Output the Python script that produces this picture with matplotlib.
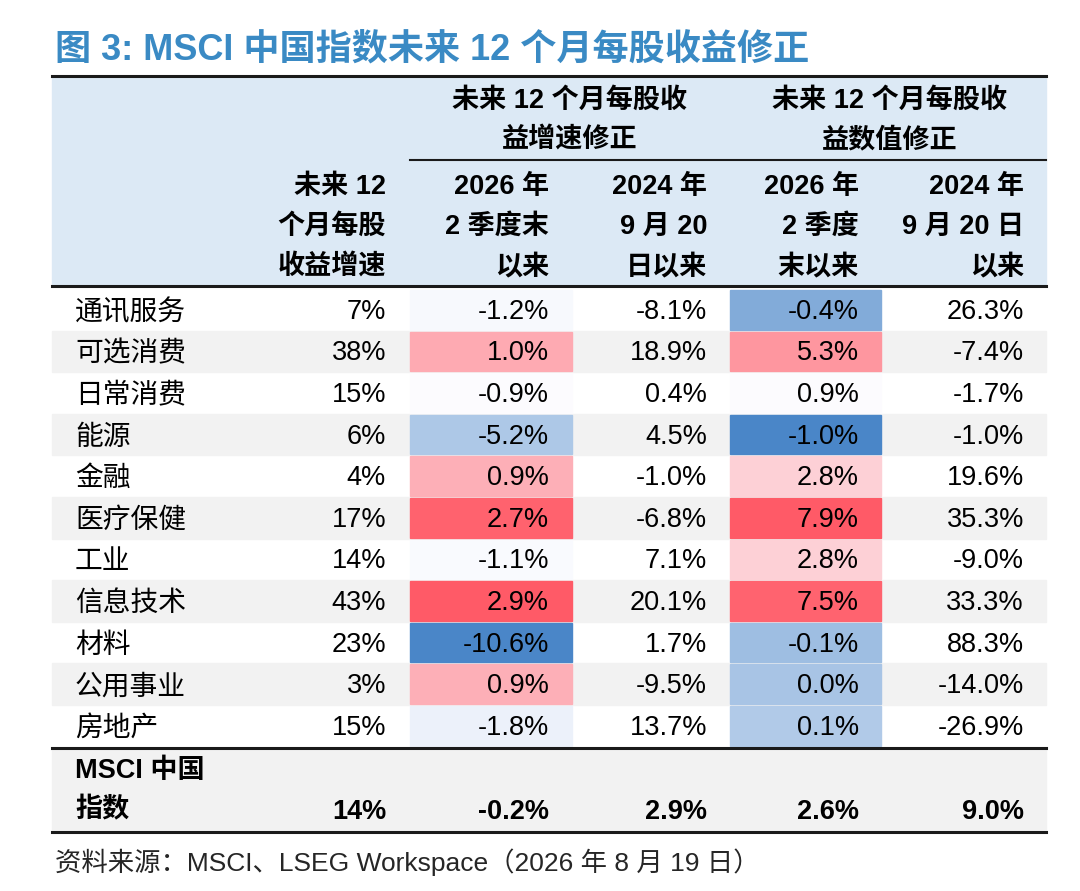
import numpy as np
import matplotlib
matplotlib.use("Agg")
import matplotlib.pyplot as plt
from matplotlib import font_manager
from matplotlib.colors import LinearSegmentedColormap, TwoSlopeNorm
from matplotlib.patches import Rectangle

# pick a narrow latin face if one exists, else Arial-like Liberation Sans
names = {f.name for f in font_manager.fontManager.ttflist}
latin = next((n for n in ["Liberation Sans Narrow", "Arial Narrow", "DejaVu Sans Condensed"]
              if n in names), "Liberation Sans")
plt.rcParams['font.family'] = [latin, 'Noto Sans CJK SC', 'DejaVu Sans']

title = "图 3: MSCI 中国指数未来 12 个月每股收益修正"
source = "资料来源：MSCI、LSEG Workspace（2026 年 8 月 19 日）"

sectors = ["通讯服务", "可选消费", "日常消费", "能源", "金融", "医疗保健",
           "工业", "信息技术", "材料", "公用事业", "房地产"]
eps_growth = [7, 38, 15, 6, 4, 17, 14, 43, 23, 3, 15]
growth_rev_q2 = [-1.2, 1.0, -0.9, -5.2, 0.9, 2.7, -1.1, 2.9, -10.6, 0.9, -1.8]
growth_rev_sep = [-8.1, 18.9, 0.4, 4.5, -1.0, -6.8, 7.1, 20.1, 1.7, -9.5, 13.7]
value_rev_q2 = [-0.4, 5.3, 0.9, -1.0, 2.8, 7.9, 2.8, 7.5, -0.1, 0.0, 0.1]
value_rev_sep = [26.3, -7.4, -1.7, -1.0, 19.6, 35.3, -9.0, 33.3, 88.3, -14.0, -26.9]

index_name = ["MSCI 中国", "指数"]
index_row = [14, -0.2, 2.9, 2.6, 9.0]

group_headers = [["未来 12 个月每股收", "益增速修正"], ["未来 12 个月每股收", "益数值修正"]]
col_headers = [["未来 12", "个月每股", "收益增速"],
               ["2026 年", "2 季度末", "以来"],
               ["2024 年", "9 月 20", "日以来"],
               ["2026 年", "2 季度", "末以来"],
               ["2024 年", "9 月 20 日", "以来"]]

# layout in pixel units of the 1080x891 canvas
W, H = 1080, 891
left, right = 52, 1046
col_right = [386, 549, 707, 859, 1024]
cell_spans = {1: (410, 572), 3: (730, 881)}
row_top, row_h = 289, 41.6
num_size = 21 if latin != "Liberation Sans" else 19.5

fig = plt.figure(figsize=(10.8, 8.91), dpi=100)
ax = fig.add_axes([0, 0, 1, 1])
ax.set_xlim(0, W)
ax.set_ylim(H, 0)
ax.axis("off")

ax.text(55, 50, title, fontsize=26, fontweight="bold", color="#3a8ac4",
        va="center", ha="left")

# header block
ax.add_patch(Rectangle((left, 77), right - left, 209, color="#dce9f5", zorder=0))
ax.plot([left, right], [76, 76], color="#1a1a1a", lw=2.2)
ax.plot([410, right], [160, 160], color="#1a1a1a", lw=1.5)
ax.plot([left, right], [286, 286], color="#1a1a1a", lw=2.2)

hfont = dict(fontsize=19.5, fontweight="bold", va="center")
for cx, lines in zip([570, 890], group_headers):
    for li, t in enumerate(lines):
        ax.text(cx, 101 + li * 39, t, ha="center", **hfont)
for ci, lines in enumerate(col_headers):
    for li, t in enumerate(lines):
        ax.text(col_right[ci], 187 + li * 40, t, ha="right", **hfont)

cmap = LinearSegmentedColormap.from_list("rwb", ["#4a86c8", "#fcfcff", "#ff5a67"])
cols = [eps_growth, growth_rev_q2, growth_rev_sep, value_rev_q2, value_rev_sep]

scales = {}
for ci, span in cell_spans.items():
    vals = np.array(cols[ci])
    norm = TwoSlopeNorm(vmin=vals.min(), vcenter=np.median(vals), vmax=vals.max())
    scales[ci] = (span, norm)

for ri, name in enumerate(sectors):
    y0 = row_top + ri * row_h
    yc = y0 + row_h / 2 + 2
    if ri % 2 == 1:
        ax.add_patch(Rectangle((left, y0), right - left, row_h, color="#f2f2f2", zorder=0))
    ax.text(75, yc, name, fontsize=20, va="center", ha="left", family="Noto Sans CJK SC")
    for ci, col in enumerate(cols):
        v = col[ri]
        if ci in scales:
            (x0, x1), norm = scales[ci]
            ax.add_patch(Rectangle((x0, y0 + 1), x1 - x0, row_h - 2,
                                   color=cmap(norm(v)), zorder=1))
        label = f"{v}%" if ci == 0 else f"{v:.1f}%"
        ax.text(col_right[ci], yc, label, fontsize=num_size, va="center", ha="right", zorder=2)

# index summary row
y_bot = row_top + len(sectors) * row_h + 1
ax.plot([left, right], [y_bot, y_bot], color="#1a1a1a", lw=2.2)
ax.add_patch(Rectangle((left, y_bot + 1), right - left, 83, color="#f2f2f2", zorder=0))
ax.text(75, y_bot + 23, index_name[0], fontsize=19.5, fontweight="bold", va="center")
ax.text(75, y_bot + 63, index_name[1], fontsize=19.5, fontweight="bold", va="center")
for ci, v in enumerate(index_row):
    label = f"{v}%" if ci == 0 else f"{v:.1f}%"
    ax.text(col_right[ci], y_bot + 64, label, fontsize=num_size, fontweight="bold",
            va="center", ha="right")
ax.plot([left, right], [y_bot + 84, y_bot + 84], color="#1a1a1a", lw=2.2)

ax.text(55, 862, source, fontsize=19, color="#262626", va="center", ha="left")

fig.savefig("out.png", dpi=100)
